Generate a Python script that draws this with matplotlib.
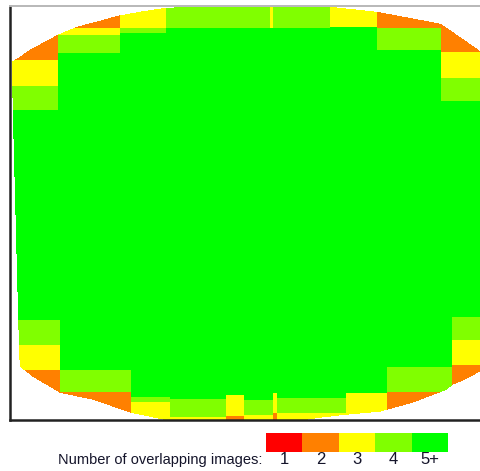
import numpy as np
import matplotlib
matplotlib.use("Agg")
import matplotlib.pyplot as plt
from matplotlib.colors import ListedColormap
from matplotlib.path import Path

# ---------------- data (map units) ----------------
overlap_colors = ["#FF0000", "#FF8000", "#FFFF00", "#80FF00", "#00FF00"]
legend_labels = ["1", "2", "3", "4", "5+"]
legend_title = "Number of overlapping images:"
interior_value = 5

# top edge strips: (x0, x1, [(y_end, value), ...]) from the top down
top_strips = [
    (10, 58, [(60, 2), (86, 3), (110, 4)]),
    (58, 120, [(28, 2), (35, 3), (53, 4)]),
    (120, 166, [(28, 3), (33, 4)]),
    (166, 270, [(28, 4)]),
    (270, 273, [(28, 3)]),
    (273, 330, [(28, 4)]),
    (330, 377, [(27, 3)]),
    (377, 441, [(28, 2), (50, 4)]),
    (441, 495, [(52, 2), (78, 3), (101, 4)]),
]
# bottom edge strips: (x0, x1, [(y_start, value), ...]) from the inside outward
bottom_strips = [
    (10, 60, [(320, 4), (345, 3), (370, 2)]),
    (60, 131, [(370, 4), (392, 2)]),
    (131, 170, [(397, 4), (402, 3)]),
    (170, 226, [(399, 4), (417, 3)]),
    (226, 244, [(395, 3), (416, 2)]),
    (244, 273, [(400, 4), (415, 3)]),
    (273, 277, [(393, 3), (413, 2)]),
    (277, 346, [(398, 4), (413, 3)]),
    (346, 387, [(393, 3)]),
    (387, 452, [(367, 4), (392, 2)]),
    (452, 495, [(317, 4), (340, 3), (365, 2)]),
]
# outline of the covered area
footprint_x = [12, 20, 30, 45, 58, 77, 100, 118, 140, 166, 200, 330, 377, 420, 441, 460, 480, 495,
               495, 480, 465, 453, 447, 413, 380, 346, 320, 300, 170, 150, 131, 93, 60, 33, 20, 19, 13, 12]
footprint_y = [62, 57, 50, 42, 35, 27, 21, 16, 12, 8, 7, 7, 12, 20, 24, 37, 51, 60,
               371, 372, 380, 385, 390, 403, 412, 415, 418, 421, 421, 417, 413, 400, 393, 377, 367, 340, 110, 62]

# ---------------- figure ----------------
W, H = 481, 471
fig = plt.figure(figsize=(W / 100, H / 100), dpi=100)
x_lo, x_hi, y_top, y_bot = 10, 490, 6, 420
ax = fig.add_axes([x_lo / W, 1 - y_bot / H, (x_hi - x_lo) / W, (y_bot - y_top) / H])

step = 0.5
xs = np.arange(x_lo, x_hi, step) + step / 2
ys = np.arange(y_top, y_bot, step) + step / 2
grid = np.full((len(ys), len(xs)), float(interior_value))
X, Y = np.meshgrid(xs, ys)

for x0, x1, bands in top_strips:
    prev = y_top
    cols = (xs >= x0) & (xs < x1)
    for y_end, val in bands:
        rows = (ys >= prev) & (ys < y_end)
        grid[np.ix_(rows, cols)] = val
        prev = y_end
for x0, x1, bands in bottom_strips:
    cols = (xs >= x0) & (xs < x1)
    ends = [b[0] for b in bands[1:]] + [y_bot + 5]
    for (y_start, val), y_end in zip(bands, ends):
        rows = (ys >= y_start) & (ys < y_end)
        grid[np.ix_(rows, cols)] = val

outline = Path(np.column_stack([footprint_x, footprint_y]))
inside = outline.contains_points(np.column_stack([X.ravel(), Y.ravel()])).reshape(X.shape)
grid[~inside] = np.nan

cmap = ListedColormap(overlap_colors)
cmap.set_bad("white")
ax.imshow(grid, cmap=cmap, vmin=0.5, vmax=5.5, extent=(x_lo, x_hi, y_bot, y_top),
          interpolation="nearest", aspect="auto")
ax.set_xlim(x_lo, x_hi)
ax.set_ylim(y_bot, y_top)
ax.set_xticks([])
ax.set_yticks([])
ax.spines["left"].set_color("#222222")
ax.spines["left"].set_linewidth(1.8)
ax.spines["bottom"].set_color("#222222")
ax.spines["bottom"].set_linewidth(1.8)
ax.spines["top"].set_color("#b8b8b8")
ax.spines["top"].set_linewidth(1.4)
ax.spines["right"].set_visible(False)

# ---------------- legend ----------------
lx0, lx1, ly0, ly1 = 266, 448, 433, 452
lax = fig.add_axes([lx0 / W, 1 - ly1 / H, (lx1 - lx0) / W, (ly1 - ly0) / H])
lax.imshow(np.arange(1, len(overlap_colors) + 1)[None, :], cmap=cmap, vmin=0.5, vmax=5.5,
           aspect="auto", extent=(0, len(overlap_colors), 1, 0), interpolation="nearest")
lax.set_axis_off()

font = ["Liberation Sans", "DejaVu Sans"]
box_w = (lx1 - lx0) / len(legend_labels)
for i, lab in enumerate(legend_labels):
    fig.text((lx0 + box_w * (i + 0.5)) / W, 1 - 460 / H, lab, ha="center", va="center",
             fontsize=12, family=font, color="#14142a")
fig.text(262 / W, 1 - 460 / H, legend_title, ha="right", va="center",
         fontsize=10.5, family=font, color="#14142a")

fig.savefig("out.png", dpi=100)
